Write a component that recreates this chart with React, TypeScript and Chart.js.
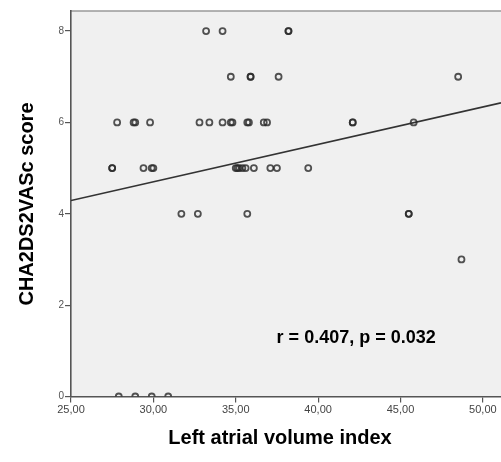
import React, { useEffect, useRef } from "react";
import { Chart, registerables } from "chart.js";

Chart.register(...registerables);

const xTitle = "Left atrial volume index";
const yTitle = "CHA2DS2VASc score";
const annotation = "r = 0.407, p = 0.032";

const xTicks = [25, 30, 35, 40, 45, 50];
const xTickLabels = ["25,00", "30,00", "35,00", "40,00", "45,00", "50,00"];
const yTicks = [0, 2, 4, 6, 8];
const yTickLabels = ["0", "2", "4", "6", "8"];

const xMin = 25;
const xMax = 51.1;
const yMin = 0;
const yMax = 8.44;

const laviValues = [
  33.2, 34.2, 38.2, 38.2,
  34.7, 35.9, 35.9, 37.6, 48.5,
  27.8, 28.8, 28.9, 29.8, 32.8, 33.4, 34.2, 34.7, 34.8, 35.7, 35.8, 36.7, 36.9, 42.1, 42.1, 45.8,
  27.5, 27.5, 29.4, 29.9, 30.0, 35.0, 35.1, 35.2, 35.4, 35.6, 36.1, 37.1, 37.5, 39.4,
  31.7, 32.7, 35.7, 45.5, 45.5,
  48.7,
  27.9, 28.9, 29.9, 30.9,
];
const scoreValues = [
  8, 8, 8, 8,
  7, 7, 7, 7, 7,
  6, 6, 6, 6, 6, 6, 6, 6, 6, 6, 6, 6, 6, 6, 6, 6,
  5, 5, 5, 5, 5, 5, 5, 5, 5, 5, 5, 5, 5, 5,
  4, 4, 4, 4, 4,
  3,
  0, 0, 0, 0,
];

const fitX = [25, 51.1];
const fitY = [4.29, 6.43];

export default function App() {
  const ref = useRef<HTMLCanvasElement>(null);

  useEffect(() => {
    if (!ref.current) return;

    const bgPlugin = {
      id: "bgPlugin",
      beforeDraw(chart: any) {
        const { ctx, chartArea } = chart;
        ctx.save();
        ctx.fillStyle = "#ffffff";
        ctx.fillRect(0, 0, chart.width, chart.height);
        ctx.fillStyle = "#f0f0f0";
        ctx.fillRect(chartArea.left, chartArea.top, chartArea.right - chartArea.left, chartArea.bottom - chartArea.top);
        ctx.strokeStyle = "#9a9a9a";
        ctx.lineWidth = 1.5;
        ctx.beginPath();
        ctx.moveTo(chartArea.left, chartArea.top);
        ctx.lineTo(chartArea.right, chartArea.top);
        ctx.stroke();
        ctx.restore();
      },
      afterDraw(chart: any) {
        const { ctx, scales } = chart;
        ctx.save();
        ctx.fillStyle = "#000";
        ctx.font = "bold 20px 'Liberation Sans', Arial, sans-serif";
        ctx.textAlign = "center";
        ctx.textBaseline = "middle";
        ctx.fillText(xTitle, 280, 438);
        ctx.save();
        ctx.translate(27, 204);
        ctx.rotate(-Math.PI / 2);
        ctx.fillText(yTitle, 0, 0);
        ctx.restore();
        ctx.font = "bold 18px 'Liberation Sans', Arial, sans-serif";
        ctx.textAlign = "left";
        ctx.fillText(annotation, scales.x.getPixelForValue(37.48), scales.y.getPixelForValue(1.28));
        ctx.restore();
      },
    };

    const chart = new Chart(ref.current, {
      type: "scatter",
      data: {
        datasets: [
          {
            type: "scatter",
            data: laviValues.map((x, i) => ({ x, y: scoreValues[i] })),
            pointStyle: "circle",
            pointRadius: 3,
            pointBorderWidth: 1.8,
            pointBorderColor: "rgba(40,40,40,0.8)",
            pointBackgroundColor: "rgba(0,0,0,0)",
            clip: 0,
          },
          {
            type: "line",
            data: fitX.map((x, i) => ({ x, y: fitY[i] })),
            borderColor: "#333",
            borderWidth: 1.6,
            pointRadius: 0,
            fill: false,
            clip: 0,
          } as any,
        ],
      },
      options: {
        responsive: false,
        animation: false,
        layout: { autoPadding: false, padding: { top: 11, right: 0, left: 0, bottom: 0 } },
        plugins: {
          legend: { display: false },
          tooltip: { enabled: false },
        },
        scales: {
          x: {
            type: "linear",
            min: xMin,
            max: xMax,
            afterBuildTicks: (s: any) => {
              s.ticks = xTicks.map((v) => ({ value: v }));
            },
            afterFit: (s: any) => {
              s.height = 65.5;
              s.paddingLeft = 0;
              s.paddingRight = 0;
            },
            ticks: {
              callback: (v: any) => xTickLabels[xTicks.indexOf(Number(v))] ?? "",
              font: { family: "'Liberation Sans', Arial, sans-serif", size: 11 },
              color: "#444",
              maxRotation: 0,
              padding: 1,
            },
            grid: { display: true, drawOnChartArea: false, drawTicks: true, tickLength: 6, color: "#555", lineWidth: 1.2 },
            border: { display: true, color: "#555", width: 1.6 },
          },
          y: {
            type: "linear",
            min: yMin,
            max: yMax,
            afterBuildTicks: (s: any) => {
              s.ticks = yTicks.map((v) => ({ value: v }));
            },
            afterFit: (s: any) => {
              s.width = 71;
              s.paddingTop = 0;
              s.paddingBottom = 0;
            },
            ticks: {
              callback: (v: any) => yTickLabels[yTicks.indexOf(Number(v))] ?? "",
              font: { family: "'Liberation Sans', Arial, sans-serif", size: 10 },
              color: "#555",
              padding: 1,
            },
            grid: { display: true, drawOnChartArea: false, drawTicks: true, tickLength: 6, color: "#555", lineWidth: 1.2 },
            border: { display: true, color: "#555", width: 1.6 },
          },
        },
      },
      plugins: [bgPlugin],
    } as any);

    return () => chart.destroy();
  }, []);

  return (
    <div style={{ position: "absolute", left: 0, top: 0, width: 501, height: 462, background: "#fff" }}>
      <canvas ref={ref} width={501} height={462} style={{ display: "block" }} />
    </div>
  );
}
